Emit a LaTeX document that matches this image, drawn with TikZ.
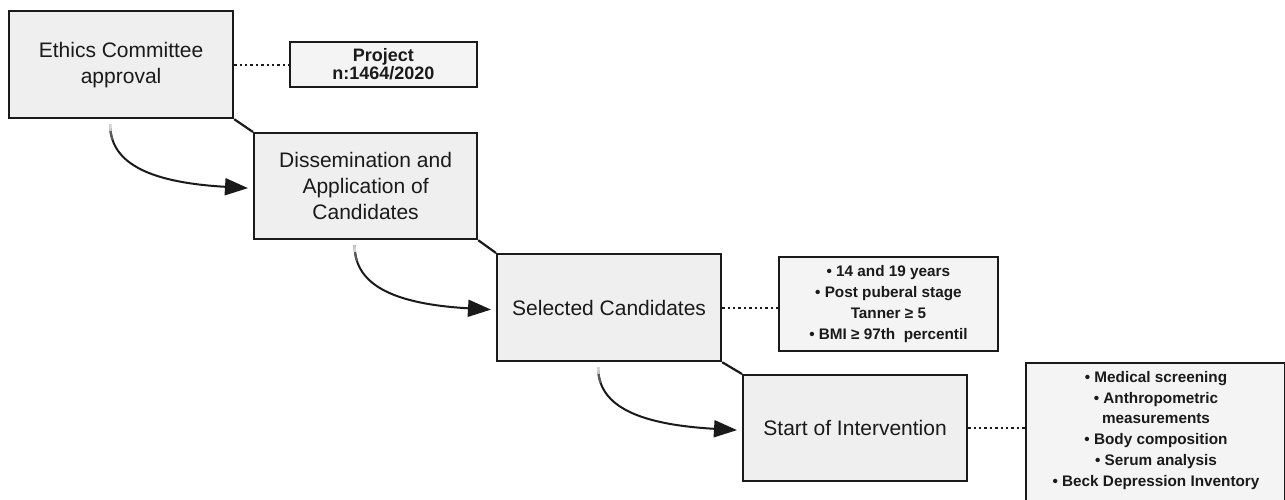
\documentclass[tikz,border=0pt]{standalone}
\usepackage{fontspec}
\setmainfont{Liberation Sans}
\usetikzlibrary{arrows.meta}
\definecolor{boxfill}{HTML}{EFEFEF}
\definecolor{notefill}{HTML}{F4F4F4}
\definecolor{ink}{HTML}{1A1A1A}
\tikzset{
  stepbox/.style={draw=ink, line width=2.2pt, fill=boxfill, anchor=north west,
    inner sep=0pt, align=center, text=ink,
    font=\fontsize{21}{26}\selectfont},
  notebox/.style={draw=ink, line width=1.8pt, fill=notefill, anchor=north west,
    inner sep=0pt, align=center, text=ink,
    font=\fontsize{15.3}{20.8}\selectfont\bfseries},
  linker/.style={draw=ink, line width=2.2pt},
  dotlink/.style={draw=ink, line width=2pt, dash pattern=on 2.4pt off 3pt},
  flowarrow/.style={draw=ink, line width=2pt, -{Triangle[length=23pt,width=17pt]}},
  fadeA/.style={draw=gray!35, line width=2.2pt, dash pattern=on 7pt off 2000pt},
  fadeB/.style={draw=gray!70!black, line width=2.2pt, dash pattern=on 0pt off 7pt on 9pt off 2000pt},
}
\newcommand{\flowcurve}[3]{%
  \draw[#1] ([xshift=-11pt,yshift=-5pt]#2.south) .. controls +(0,36) and +(-105,-6) .. ([xshift=-5pt,yshift=-2pt]#3.west);}
\begin{document}
\begin{tikzpicture}[x=1pt,y=-1pt]
\clip (0,0) rectangle (1285,500);
\fill[white] (0,0) rectangle (1285,500);

\node[stepbox, minimum width=224pt, minimum height=107pt] (b1) at (8,10) {Ethics Committee\\approval};
\node[stepbox, minimum width=223pt, minimum height=106pt] (b2) at (253,132) {Dissemination and\\Application of\\Candidates};
\node[stepbox, minimum width=224pt, minimum height=107pt] (b3) at (496,253) {Selected Candidates};
\node[stepbox, minimum width=224pt, minimum height=106pt] (b4) at (742,374) {Start of Intervention};

\node[notebox, minimum width=187pt, minimum height=45pt,
  font=\fontsize{18}{16.5}\selectfont\bfseries] (proj) at (289,41) {Project\\n:1464/2020};
\node[notebox, minimum width=219pt, minimum height=94pt] (crit) at (778,256)
  {• 14 and 19 years\\• Post puberal stage\\Tanner ≥ 5\\• BMI ≥ 97th\ \ percentil};
\node[notebox, minimum width=259pt, minimum height=150pt] (meas) at (1025,362) {};
\node[font=\fontsize{15.3}{20.8}\selectfont\bfseries, text=ink, align=center, anchor=north, inner sep=0pt]
  (meastext) at (1156,371) {• Medical screening\\• Anthropometric\\measurements\\• Body composition\\• Serum analysis\\• Beck Depression Inventory};

\draw[linker] (b1.south east) -- (b2.north west);
\draw[linker] (b2.south east) -- (b3.north west);
\draw[linker] (b3.south east) -- (b4.north west);

\draw[dotlink] (b1.east) -- (b1.east -| proj.west);
\draw[dotlink] (b3.east) -- (b3.east -| crit.west);
\draw[dotlink] (b4.east) -- (b4.east -| meas.west);

\flowcurve{flowarrow}{b1}{b2}
\flowcurve{flowarrow}{b2}{b3}
\flowcurve{flowarrow}{b3}{b4}
\flowcurve{fadeA}{b1}{b2}
\flowcurve{fadeA}{b2}{b3}
\flowcurve{fadeA}{b3}{b4}
\flowcurve{fadeB}{b1}{b2}
\flowcurve{fadeB}{b2}{b3}
\flowcurve{fadeB}{b3}{b4}
\end{tikzpicture}
\end{document}
